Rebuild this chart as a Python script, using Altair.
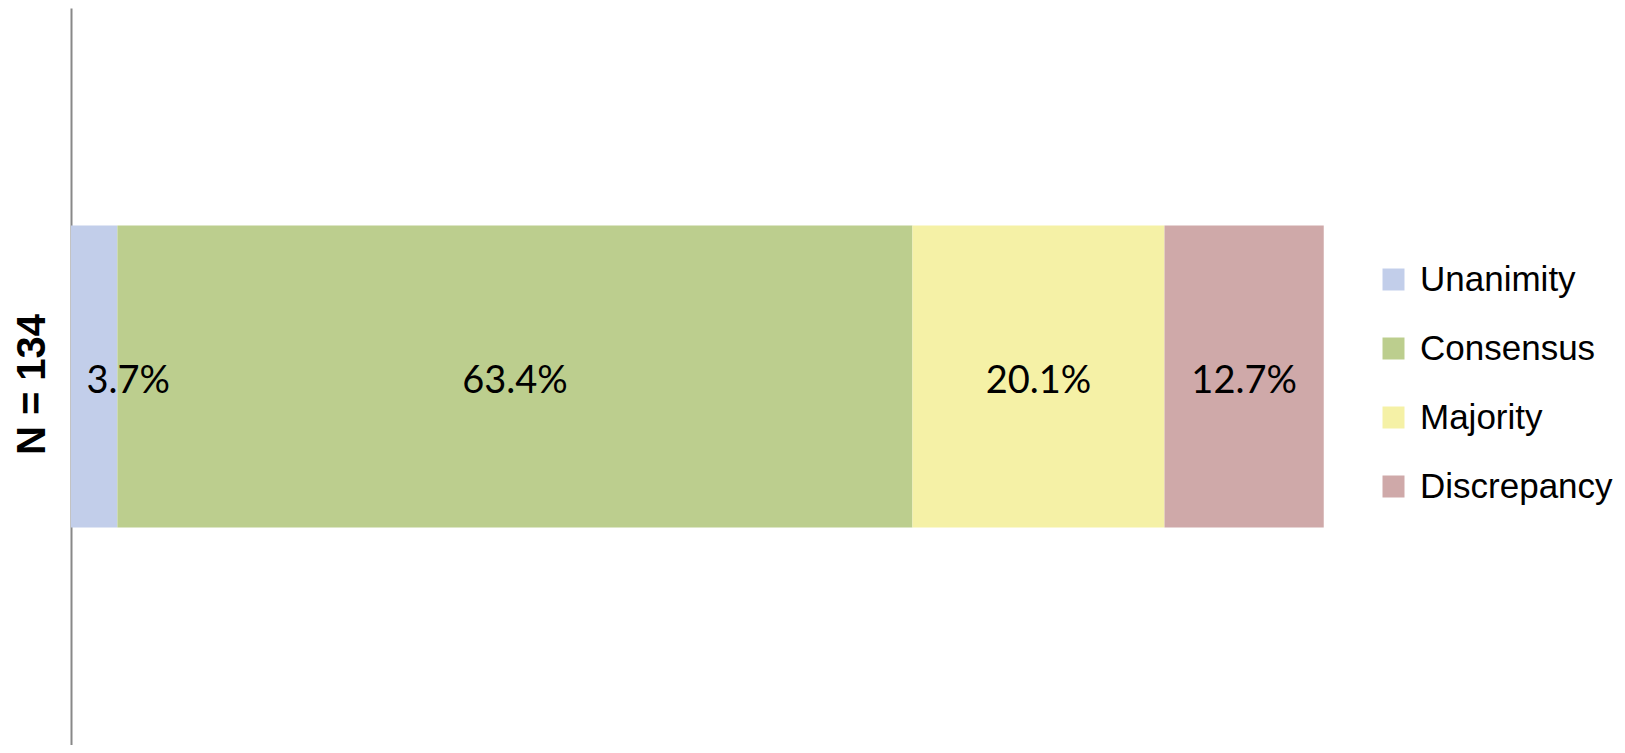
import altair as alt
import pandas as pd

categories = ["Unanimity", "Consensus", "Majority", "Discrepancy"]
values = [3.7, 63.4, 20.1, 12.7]
labels = ["3.7%", "63.4%", "20.1%", "12.7%"]
colors = ["#c2ceea", "#bcce8e", "#f5f1a6", "#cfa9a9"]
group = "N = 134"

df = pd.DataFrame({
    "category": categories,
    "value": values,
    "label": labels,
    "order": list(range(len(categories))),
    "group": [group] * len(categories),
})

base = alt.Chart(df).transform_window(
    cum="sum(value)", sort=[{"field": "order"}], frame=[None, 0]
).transform_calculate(
    start="datum.cum - datum.value", mid="datum.cum - datum.value / 2"
)

xscale = alt.Scale(domain=[0, 100], nice=False, zero=True)
yscale = alt.Scale(paddingOuter=0.72, paddingInner=0)
yaxis = alt.Axis(
    title=group, labels=False, ticks=False, grid=False,
    domain=True, domainColor="#888888", domainWidth=2,
    titleFont="Liberation Sans", titleFontSize=40, titleFontWeight="bold",
    titleColor="black", titleAngle=-90, titleX=-39, titleY=376,
    titleAlign="center", titleBaseline="middle",
)

bars = base.mark_bar().encode(
    x=alt.X("start:Q", scale=xscale, axis=None),
    x2="cum:Q",
    y=alt.Y("group:N", scale=yscale, axis=yaxis),
    color=alt.Color(
        "category:N",
        scale=alt.Scale(domain=categories, range=colors),
        legend=alt.Legend(
            title=None, orient="none", legendX=1305, legendY=254,
            symbolType="square", symbolSize=484, symbolStrokeWidth=0,
            symbolOpacity=1, labelFont="Liberation Sans", labelFontSize=35,
            labelColor="black", rowPadding=33, labelOffset=9, padding=0,
            labelLimit=0,
        ),
    ),
    order=alt.Order("order:Q"),
)

text_main = base.transform_filter("datum.order > 0").mark_text(
    font="Lato", fontSize=38, baseline="middle", align="center", color="black", dy=5
).encode(
    x=alt.X("mid:Q", scale=xscale, axis=None),
    y=alt.Y("group:N", scale=yscale, axis=yaxis),
    text="label:N",
)

text_small = base.transform_filter("datum.order == 0").mark_text(
    font="Lato", fontSize=38, baseline="middle", align="center", color="black", dx=34, dy=5
).encode(
    x=alt.X("mid:Q", scale=xscale, axis=None),
    y=alt.Y("group:N", scale=yscale, axis=yaxis),
    text="label:N",
)

chart = alt.layer(bars, text_main, text_small).properties(
    width=1254, height=737,
    autosize=alt.AutoSizeParams(type="none"),
    padding={"left": 63, "top": 0, "right": 290, "bottom": 0},
).configure_view(stroke=None)

chart.save("out.html", embed_options={"renderer": "svg", "actions": False})
